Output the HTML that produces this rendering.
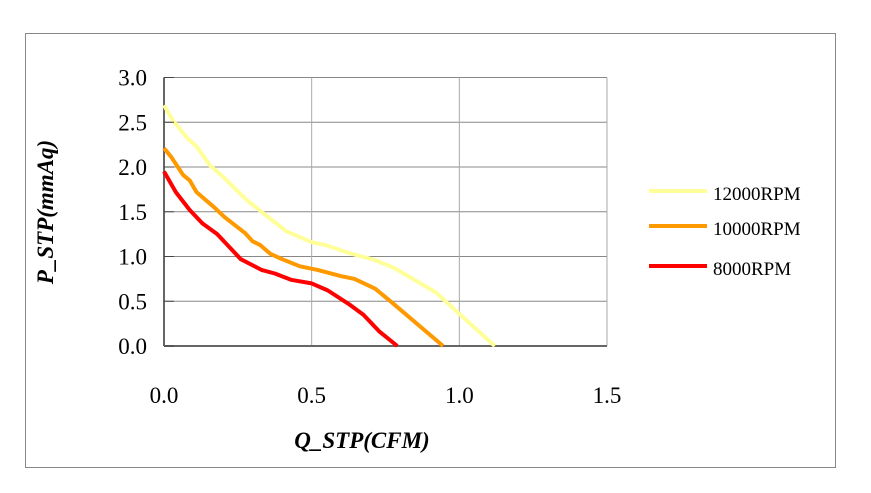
<!DOCTYPE html>
<html><head><meta charset="utf-8"><style>
html,body{margin:0;padding:0;background:#fff;}
svg{display:block;font-family:"Liberation Serif",serif;}
</style></head><body>
<svg id="chart" width="871" height="493" xmlns="http://www.w3.org/2000/svg">
<rect x="25.5" y="33.5" width="810" height="434" fill="#fff" stroke="#888" stroke-width="1"/>
<g id="grid"></g>
<g id="series"></g>
<g id="ticks"></g>
<text x="0" y="0" transform="translate(53,212) rotate(-90)" text-anchor="middle" font-size="23" font-weight="bold" font-style="italic">P_STP(mmAq)</text>
<text x="362" y="448" text-anchor="middle" font-size="23" font-weight="bold" font-style="italic">Q_STP(CFM)</text>
<g id="legend"></g>
</svg>
<script>
const xTicks=[0,0.5,1.0,1.5];
const yTicks=[0,0.5,1.0,1.5,2.0,2.5,3.0];
const seriesNames=["12000RPM","10000RPM","8000RPM"];
const seriesColors=["#ffff99","#ff9900","#ff0000"];
const q12000=[0,0.03,0.08,0.11,0.155,0.2,0.28,0.33,0.415,0.5,0.545,0.625,0.715,0.78,0.92,1.0,1.12];
const p12000=[2.69,2.52,2.32,2.23,2.02,1.89,1.63,1.50,1.28,1.16,1.13,1.04,0.96,0.87,0.60,0.36,0];
const q10000=[0,0.025,0.065,0.087,0.11,0.17,0.205,0.275,0.3,0.325,0.36,0.4,0.46,0.52,0.6,0.645,0.715,0.77,0.945];
const p10000=[2.21,2.11,1.91,1.85,1.72,1.55,1.44,1.26,1.17,1.13,1.03,0.97,0.89,0.85,0.78,0.75,0.64,0.49,0];
const q8000=[0,0.04,0.087,0.13,0.18,0.26,0.33,0.375,0.43,0.5,0.555,0.625,0.675,0.73,0.79];
const p8000=[1.95,1.72,1.52,1.37,1.25,0.97,0.85,0.81,0.74,0.70,0.62,0.47,0.35,0.16,0];
const X0=164,X1=607,Y0=346,Y1=77.5,XMAX=1.5,YMAX=3.0;
const xs=v=>X0+(X1-X0)*v/XMAX;
const ys=v=>Y0-(Y0-Y1)*v/YMAX;
const NS="http://www.w3.org/2000/svg";
function mk(t,a,parent){const e=document.createElementNS(NS,t);for(const k in a)e.setAttribute(k,a[k]);parent.appendChild(e);return e;}
const grid=document.getElementById('grid'),ticks=document.getElementById('ticks'),series=document.getElementById('series'),legend=document.getElementById('legend');
yTicks.forEach(v=>{
 const l=mk('line',{x1:X0,x2:X1,y1:ys(v),y2:ys(v),stroke:'#888','stroke-width':1},grid);
 
 
 const tk=mk('line',{x1:X0,x2:X0+10,y1:ys(v),y2:ys(v),stroke:'#444','stroke-width':1},ticks);
 
 
 const t=mk('text',{x:147,y:ys(v)+8,'text-anchor':'end','font-size':23},ticks);
 t.textContent=v.toFixed(1);
 
 
});
xTicks.forEach(v=>{
 const l=mk('line',{x1:xs(v),x2:xs(v),y1:Y1,y2:Y0,stroke:v===0?'#666':'#aaa','stroke-width':v===0?2:1},grid);
 
 
 const t=mk('text',{x:xs(v),y:403,'text-anchor':'middle','font-size':23},ticks);
 t.textContent=v.toFixed(1);
 
 
});
const b=mk('line',{x1:X0,x2:X1,y1:Y0,y2:Y0,stroke:'#666','stroke-width':2},grid);


const data=[[q12000,p12000],[q10000,p10000],[q8000,p8000]];
data.forEach((d,i)=>{
 const pts=d[0].map((q,j)=>xs(q).toFixed(1)+','+ys(d[1][j]).toFixed(1)).join(' ');
 const pl=mk('polyline',{points:pts,fill:'none',stroke:seriesColors[i],'stroke-width':4,'stroke-linejoin':'round'},series);
 
 
 const ly=[191,226,266][i];
 const ll=mk('line',{x1:649,x2:707,y1:ly,y2:ly,stroke:seriesColors[i],'stroke-width':4},legend);
 
 
 const lt=mk('text',{x:713,y:ly+9,'font-size':19},legend);
 lt.textContent=seriesNames[i];
 
 
});
</script>
</body></html>
